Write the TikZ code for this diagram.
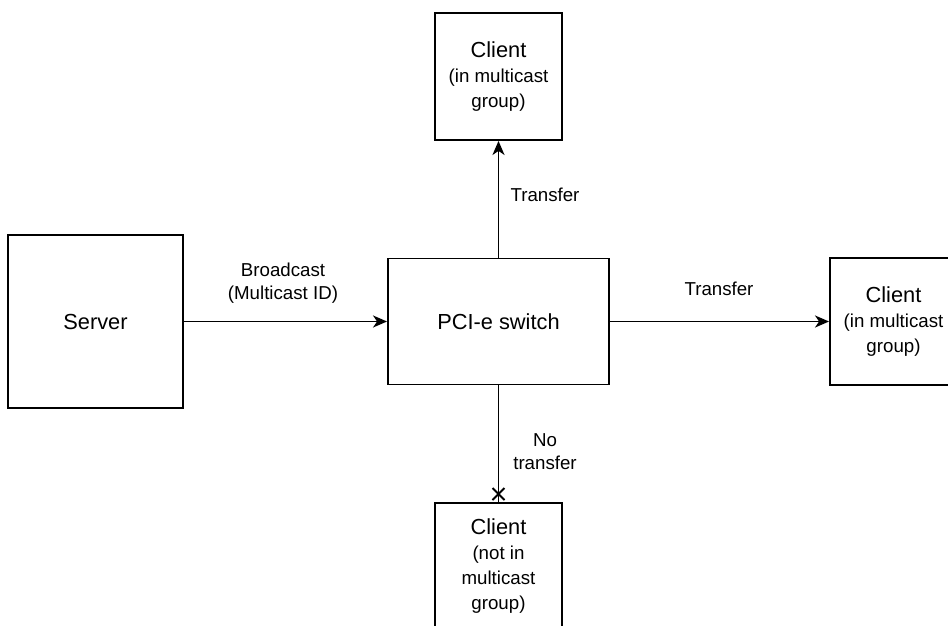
\documentclass[tikz,border=0pt]{standalone}
\usepackage{fontspec}
\setmainfont{Liberation Sans}
\usetikzlibrary{arrows.meta,calc}
\newcommand\bigfs{\fontsize{21.8}{25}\selectfont}
\newcommand\smallfs{\fontsize{18.7}{23}\selectfont}
\begin{document}
\begin{tikzpicture}[x=1pt,y=-1pt,
  box/.style={draw=black, line width=1.9pt, fill=white, inner sep=0pt,
              align=center, font=\bigfs, text=black},
  lbl/.style={align=center, font=\smallfs, text=black, inner sep=0pt},
  link/.style={line width=1.9pt, draw=black,
               -{Stealth[length=14pt,width=12pt,inset=4pt]}},
  plain/.style={line width=1.9pt, draw=black}
]
\useasboundingbox (0,0) rectangle (948,626);
\clip (0,0) rectangle (948,626);

% boxes
\node[box, minimum width=175, minimum height=173] (server) at (95.5,321.5) {Server};
\node[box, minimum width=221, minimum height=126] (switch) at (498.5,321.5) {PCI-e switch};
\node[box, minimum width=127, minimum height=127] (ctop) at (498.5,76.5)
  {Client\\\smallfs (in multicast\\\smallfs group)};
\node[box, minimum width=127, minimum height=127] (cright) at (893.5,321.5)
  {Client\\\smallfs (in multicast\\\smallfs group)};
\node[box, minimum width=127, minimum height=127] (cbot) at (498.5,566.5)
  {Client\\\smallfs (not in\\\smallfs multicast\\\smallfs group)};

% connectors
\draw[link] (server) -- (switch);
\draw[link] (switch) -- (ctop);
\draw[link] (switch) -- (cright);
\draw[plain] (switch.south) -- (cbot.north);
\coordinate (xmark) at ($(cbot.north)+(0,-8)$);
\draw[plain] ($(xmark)+(-6,-6)$) -- ($(xmark)+(6,6)$);
\draw[plain] ($(xmark)+(-6,6)$) -- ($(xmark)+(6,-6)$);

% connector labels
\node[lbl] (lbcast) at (283,283) {Broadcast\\(Multicast ID)};
\node[lbl] (ltop) at (545,195) {Transfer};
\node[lbl] (lright) at (719,289) {Transfer};
\node[lbl] (lbot) at (545,452) {No\\transfer};
\end{tikzpicture}
\end{document}
